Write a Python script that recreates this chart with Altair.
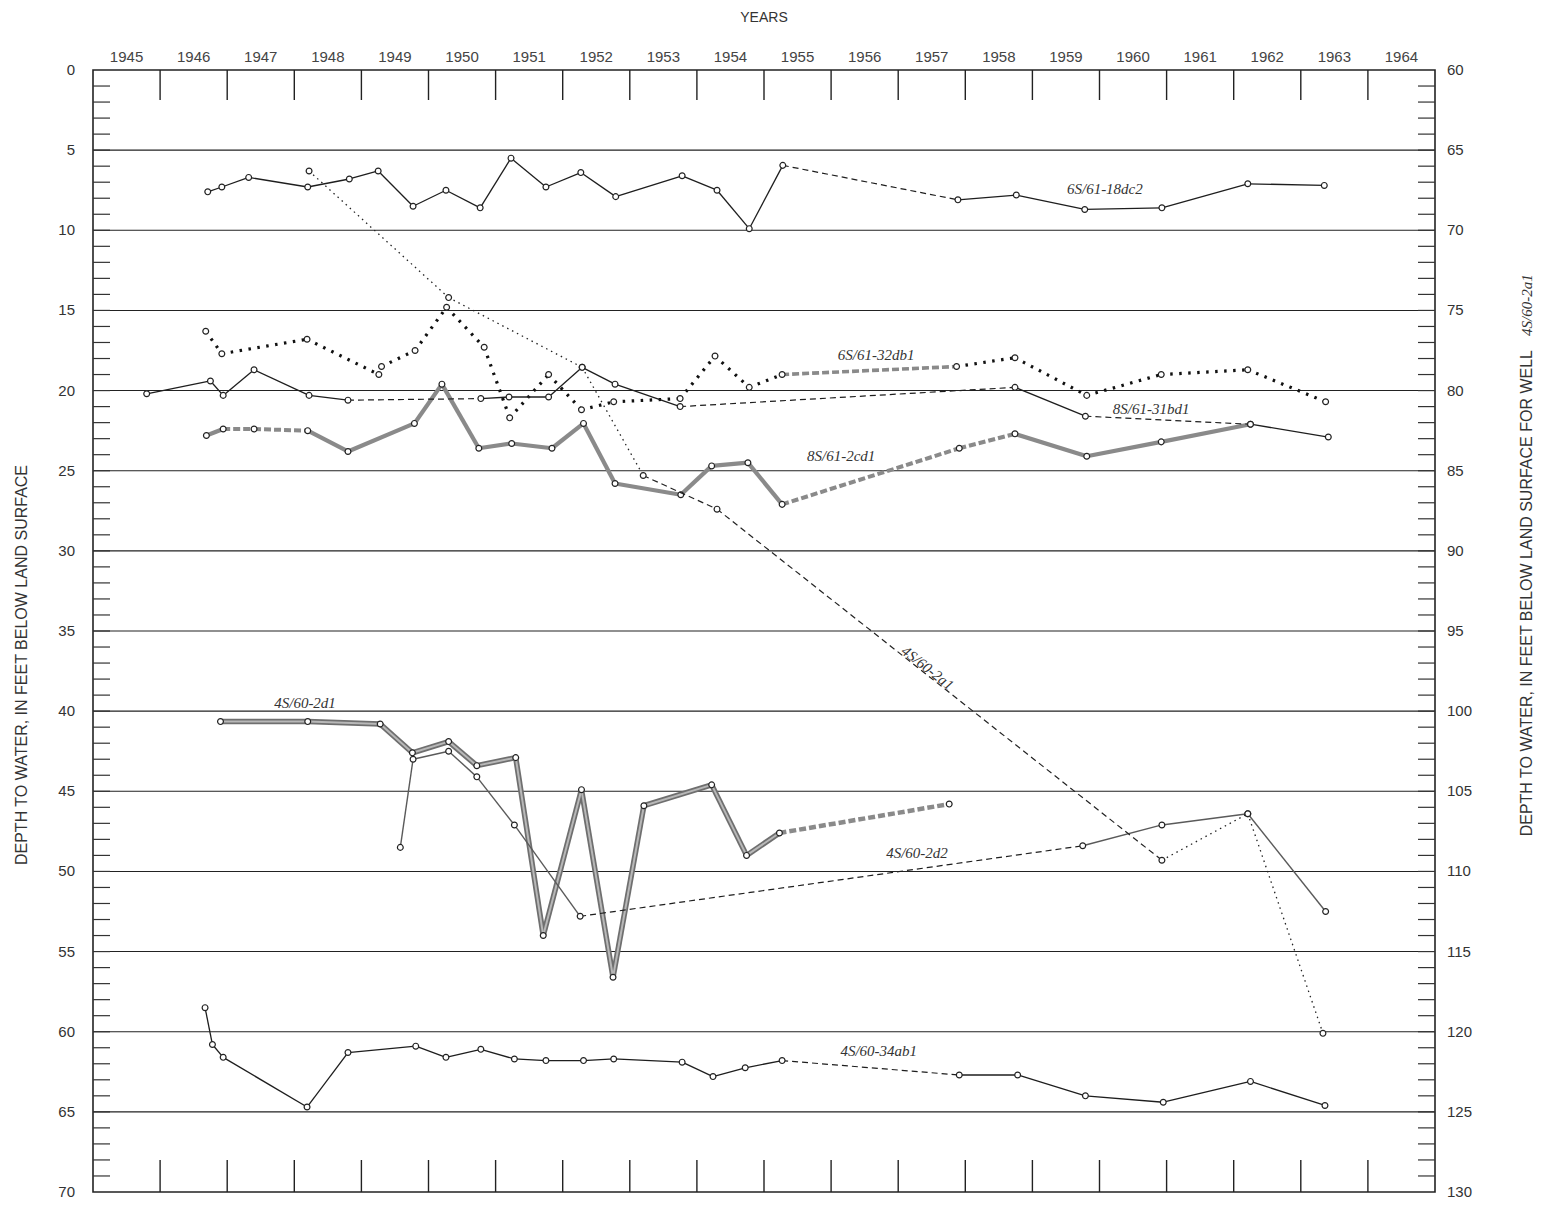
import altair as alt
import pandas as pd

# ---------------- axis values ----------------
YEAR_LABELS = list(range(1945, 1965))      # labels, centred inside each year
YEAR_TICKS = list(range(1946, 1965))       # year boundaries (inner tick marks)
LEFT_LABELS = list(range(0, 75, 5))        # depth to water, feet
RIGHT_LABELS = list(range(60, 135, 5))     # depth to water for well 4S/60-2a1
MINOR_TICKS = list(range(1, 70))

# ---------------- hydrographs (depth to water, ft below land surface) ----------------
# kind of each segment between consecutive measurements: "r" record line, "g" gap (dashed)
w18dc2_year = [1946.71, 1946.92, 1947.32, 1948.20, 1948.82, 1949.25, 1949.77, 1950.26, 1950.77, 1951.23,
               1951.75, 1952.27, 1952.79, 1953.78, 1954.30, 1954.78, 1955.28, 1957.89, 1958.76, 1959.78,
               1960.93, 1962.21, 1963.35]
w18dc2_depth = [7.6, 7.3, 6.7, 7.3, 6.8, 6.3, 8.5, 7.5, 8.6, 5.5, 7.3, 6.4, 7.9, 6.6, 7.5, 9.9, 5.95,
                8.1, 7.8, 8.7, 8.6, 7.1, 7.2]
w18dc2_kind = ["r"] * 16 + ["g"] + ["r"] * 5

w32db1_year = [1946.68, 1946.92, 1948.19, 1949.26, 1949.30, 1949.80, 1950.27, 1950.83, 1951.21, 1951.79,
               1952.28, 1952.76, 1953.75, 1954.27, 1954.78, 1955.27, 1957.87, 1958.74, 1959.81, 1960.92,
               1962.21, 1963.37]
w32db1_depth = [16.3, 17.7, 16.8, 19.0, 18.5, 17.5, 14.8, 17.3, 21.7, 19.0, 21.2, 20.7, 20.5, 17.85,
                19.8, 19.0, 18.5, 17.95, 20.3, 19.0, 18.7, 20.7]
w32db1_kind = ["r"] * 15 + ["g"] + ["r"] * 5

w31bd1_year = [1945.80, 1946.75, 1946.94, 1947.40, 1948.22, 1948.80, 1950.78, 1951.20, 1951.79, 1952.29,
               1952.78, 1953.75, 1958.74, 1959.79, 1962.25, 1963.41]
w31bd1_depth = [20.2, 19.4, 20.3, 18.7, 20.3, 20.6, 20.5, 20.4, 20.4, 18.55, 19.6, 21.0, 19.8, 21.6,
                22.1, 22.9]
w31bd1_kind = ["r", "r", "r", "r", "r", "g", "r", "r", "r", "r", "r", "g", "r", "g", "r"]

w2cd1_year = [1946.69, 1946.94, 1947.40, 1948.20, 1948.80, 1949.79, 1950.20, 1950.75, 1951.24, 1951.84,
              1952.31, 1952.78, 1953.76, 1954.22, 1954.76, 1955.27, 1957.91, 1958.74, 1959.81, 1960.92,
              1962.25]
w2cd1_depth = [22.8, 22.4, 22.4, 22.5, 23.8, 22.05, 19.6, 23.6, 23.3, 23.6, 22.05, 25.8, 26.5, 24.7,
               24.5, 27.1, 23.6, 22.7, 24.1, 23.2, 22.1]
w2cd1_kind = ["r", "g", "g"] + ["r"] * 12 + ["g", "g", "r", "r", "r"]

w2d1_year = [1946.90, 1948.20, 1949.28, 1949.76, 1950.30, 1950.72, 1951.30, 1951.71, 1952.28, 1952.75,
             1953.21, 1954.22, 1954.74, 1955.23, 1957.76]
w2d1_depth = [40.65, 40.65, 40.8, 42.6, 41.9, 43.4, 42.9, 54.0, 44.9, 56.6, 45.9, 44.6, 49.0, 47.6, 45.8]
w2d1_kind = ["r"] * 13 + ["g"]

w2d2_year = [1949.58, 1949.77, 1950.30, 1950.72, 1951.28, 1952.26, 1959.75, 1960.93, 1962.21, 1963.37]
w2d2_depth = [48.5, 43.0, 42.5, 44.1, 47.1, 52.8, 48.4, 47.1, 46.4, 52.5]
w2d2_kind = ["r", "r", "r", "r", "r", "g", "r", "r", "r"]

w34ab1_year = [1946.67, 1946.78, 1946.94, 1948.19, 1948.80, 1949.81, 1950.26, 1950.78, 1951.28, 1951.75,
               1952.31, 1952.76, 1953.78, 1954.24, 1954.72, 1955.27, 1957.91, 1958.78, 1959.79, 1960.95,
               1962.25, 1963.36]
w34ab1_depth = [58.5, 60.8, 61.6, 64.7, 61.3, 60.9, 61.6, 61.1, 61.7, 61.8, 61.8, 61.7, 61.9, 62.8,
                62.25, 61.8, 62.7, 62.7, 64.0, 64.4, 63.1, 64.6]
w34ab1_kind = ["r"] * 15 + ["g"] + ["r"] * 5

# well 4S/60-2a1 is read on the right-hand scale
w2a1_year = [1948.22, 1950.30, 1952.29, 1953.20, 1954.30, 1960.93, 1962.21, 1963.33]
w2a1_depth = [66.3, 74.2, 78.55, 85.3, 87.4, 109.3, 106.4, 120.1]
w2a1_kind = ["r", "r", "r", "g", "g", "r", "r"]

# well labels (left scale)
LABEL_TEXT = ["6S/61-18dc2", "6S/61-32db1", "8S/61-31bd1", "8S/61-2cd1", "4S/60-2d1", "4S/60-2d2", "4S/60-34ab1"]
LABEL_YEAR = [1960.08, 1956.67, 1960.77, 1956.15, 1948.16, 1957.28, 1956.71]
LABEL_DEPTH = [7.4, 17.8, 21.15, 24.1, 39.5, 48.85, 61.2]
# label of 4S/60-2a1 (right scale)
LABEL_2A1 = ["4S/60-2a1"]
LABEL_2A1_YEAR = [1957.44]
LABEL_2A1_DEPTH = [97.3]

# ---------------- geometry ----------------
W, H = 1342, 1122
xscale = alt.Scale(domain=[1945, 1965], nice=False, zero=False)
yscale = alt.Scale(domain=[0, 70], reverse=True, nice=False, zero=False)
rscale = alt.Scale(domain=[60, 130], reverse=True, nice=False, zero=False)

DARK = "#1e1e1e"
GRAY = "#8a8a8a"
SANS = "Liberation Sans"
SERIF = "Liberation Serif"

STYLES = {
    ("6S/61-18dc2", "r"): [dict(color=DARK, strokeWidth=1.3)],
    ("6S/61-18dc2", "g"): [dict(color=DARK, strokeWidth=1.2, strokeDash=[6, 4])],
    ("6S/61-32db1", "r"): [dict(color="#111", strokeWidth=3.2, strokeDash=[2.5, 6.5])],
    ("6S/61-32db1", "g"): [dict(color=GRAY, strokeWidth=3.6, strokeDash=[7, 3])],
    ("8S/61-31bd1", "r"): [dict(color=DARK, strokeWidth=1.3)],
    ("8S/61-31bd1", "g"): [dict(color=DARK, strokeWidth=1.2, strokeDash=[6, 4])],
    ("8S/61-2cd1", "r"): [dict(color=GRAY, strokeWidth=4.2)],
    ("8S/61-2cd1", "g"): [dict(color=GRAY, strokeWidth=4.0, strokeDash=[7, 3])],
    ("4S/60-2d1", "r"): [dict(color="#6f6f6f", strokeWidth=5.5), dict(color="#b8b8b8", strokeWidth=2.0)],
    ("4S/60-2d1", "g"): [dict(color=GRAY, strokeWidth=4.5, strokeDash=[7, 3])],
    ("4S/60-2d2", "r"): [dict(color="#5a5a5a", strokeWidth=1.4)],
    ("4S/60-2d2", "g"): [dict(color=DARK, strokeWidth=1.2, strokeDash=[6, 4])],
    ("4S/60-34ab1", "r"): [dict(color=DARK, strokeWidth=1.3)],
    ("4S/60-34ab1", "g"): [dict(color=DARK, strokeWidth=1.2, strokeDash=[6, 4])],
    ("4S/60-2a1", "r"): [dict(color="#222", strokeWidth=1.3, strokeDash=[1.5, 4])],
    ("4S/60-2a1", "g"): [dict(color="#222", strokeWidth=1.2, strokeDash=[6, 4])],
}


def segment_rows(well, years, depths, kinds):
    rows = []
    for i, k in enumerate(kinds):
        for j in (i, i + 1):
            rows.append(dict(well=well, kind=k, seg=f"{well}#{i}", ord=j,
                             year=years[j], depth=depths[j]))
    return rows


LEFT_WELLS = [
    ("4S/60-2d1", w2d1_year, w2d1_depth, w2d1_kind),
    ("8S/61-2cd1", w2cd1_year, w2cd1_depth, w2cd1_kind),
    ("6S/61-32db1", w32db1_year, w32db1_depth, w32db1_kind),
    ("6S/61-18dc2", w18dc2_year, w18dc2_depth, w18dc2_kind),
    ("8S/61-31bd1", w31bd1_year, w31bd1_depth, w31bd1_kind),
    ("4S/60-2d2", w2d2_year, w2d2_depth, w2d2_kind),
    ("4S/60-34ab1", w34ab1_year, w34ab1_depth, w34ab1_kind),
]
WELL_2A1 = [("4S/60-2a1", w2a1_year, w2a1_depth, w2a1_kind)]


def X(field):
    return alt.X(field, scale=xscale, axis=None)


def line_layers(wells, ysc):
    layers = []
    for well, yrs, dps, kinds in wells:
        df = pd.DataFrame(segment_rows(well, yrs, dps, kinds))
        for kind in ("g", "r"):
            sub = df[df["kind"] == kind]
            if sub.empty:
                continue
            for props in STYLES[(well, kind)]:
                layers.append(
                    alt.Chart(sub).mark_line(strokeCap="butt", strokeJoin="round", **props).encode(
                        x=X("year:Q"),
                        y=alt.Y("depth:Q", scale=ysc, axis=None),
                        detail="seg:N",
                        order="ord:Q",
                    )
                )
    return layers


def point_layer(wells, ysc):
    rows = []
    for well, yrs, dps, _ in wells:
        for y, d in zip(yrs, dps):
            rows.append(dict(well=well, year=y, depth=d))
    return alt.Chart(pd.DataFrame(rows)).mark_circle(
        fill="white", stroke="#222", strokeWidth=1.2, size=34, opacity=1
    ).encode(
        x=X("year:Q"),
        y=alt.Y("depth:Q", scale=ysc, axis=None),
    )


# ---- frame: gridlines, inner ticks, scale labels ----
grid = alt.Chart(pd.DataFrame({"d": LEFT_LABELS[1:-1]})).mark_rule(color="#222", strokeWidth=1.1).encode(
    y=alt.Y("d:Q", scale=yscale, axis=None), x=alt.value(0), x2=alt.value(W),
)
years_top = alt.Chart(pd.DataFrame({"yr": YEAR_TICKS})).mark_rule(color="#222", strokeWidth=1.4).encode(
    x=X("yr:Q"), y=alt.value(0), y2=alt.value(30),
)
years_bottom = alt.Chart(pd.DataFrame({"yr": YEAR_TICKS})).mark_rule(color="#222", strokeWidth=1.4).encode(
    x=X("yr:Q"), y=alt.value(H - 32), y2=alt.value(H),
)
minor_left = alt.Chart(pd.DataFrame({"d": MINOR_TICKS})).mark_rule(color="#333", strokeWidth=1.2).encode(
    y=alt.Y("d:Q", scale=yscale, axis=None), x=alt.value(0), x2=alt.value(17),
)
minor_right = alt.Chart(pd.DataFrame({"d": MINOR_TICKS})).mark_rule(color="#333", strokeWidth=1.2).encode(
    y=alt.Y("d:Q", scale=yscale, axis=None), x=alt.value(W - 17), x2=alt.value(W),
)
year_text = alt.Chart(pd.DataFrame({"yr": YEAR_LABELS})).transform_calculate(
    mid="datum.yr + 0.5", lab="'' + datum.yr"
).mark_text(font=SANS, fontSize=15, color="#444", baseline="bottom").encode(
    x=X("mid:Q"), y=alt.value(-5), text="lab:N",
)
left_text = alt.Chart(pd.DataFrame({"d": LEFT_LABELS})).transform_calculate(
    lab="'' + datum.d"
).mark_text(font=SANS, fontSize=15, color="#333", align="right", baseline="middle").encode(
    y=alt.Y("d:Q", scale=yscale, axis=None), x=alt.value(-18), text="lab:N",
)

labels = alt.Chart(pd.DataFrame({"t": LABEL_TEXT, "year": LABEL_YEAR, "depth": LABEL_DEPTH})).mark_text(
    font=SERIF, fontStyle="italic", fontSize=15, color="#333"
).encode(
    x=X("year:Q"),
    y=alt.Y("depth:Q", scale=yscale, axis=None),
    text="t:N",
)

title_top = alt.Chart(pd.DataFrame({"t": ["YEARS"]})).mark_text(
    font=SANS, fontSize=14, color="#333"
).encode(text="t:N", x=alt.value(W / 2), y=alt.value(-52))

title_left = alt.Chart(pd.DataFrame({"t": ["DEPTH TO WATER, IN FEET BELOW LAND SURFACE"]})).mark_text(
    font=SANS, fontSize=16, color="#333", angle=270, align="center", baseline="middle"
).encode(text="t:N", x=alt.value(-71), y=alt.value(595))

title_right = alt.Chart(pd.DataFrame({"t": ["DEPTH TO WATER, IN FEET BELOW LAND SURFACE FOR WELL"]})).mark_text(
    font=SANS, fontSize=16, color="#333", angle=270, align="right", baseline="middle"
).encode(text="t:N", x=alt.value(1434), y=alt.value(280))

title_right_well = alt.Chart(pd.DataFrame({"t": ["4S/60-2a1"]})).mark_text(
    font=SERIF, fontStyle="italic", fontSize=15, color="#333", angle=270, align="left",
    baseline="middle"
).encode(text="t:N", x=alt.value(1434), y=alt.value(266))

left = alt.layer(
    grid, years_top, years_bottom, minor_left, minor_right,
    *line_layers(LEFT_WELLS, yscale),
    point_layer(LEFT_WELLS, yscale),
    labels, year_text, left_text, title_top, title_left, title_right, title_right_well,
)

# ---- right-scale well 4S/60-2a1 ----
right_text = alt.Chart(pd.DataFrame({"d": RIGHT_LABELS})).transform_calculate(
    lab="'' + datum.d"
).mark_text(font=SANS, fontSize=15, color="#333", align="left", baseline="middle").encode(
    y=alt.Y("d:Q", scale=rscale, axis=None), x=alt.value(W + 12), text="lab:N",
)
label_2a1 = alt.Chart(pd.DataFrame({"t": LABEL_2A1, "year": LABEL_2A1_YEAR, "depth": LABEL_2A1_DEPTH})).mark_text(
    font=SERIF, fontStyle="italic", fontSize=15, color="#333", angle=38
).encode(
    x=X("year:Q"),
    y=alt.Y("depth:Q", scale=rscale, axis=None),
    text="t:N",
)
right = alt.layer(
    right_text,
    *line_layers(WELL_2A1, rscale),
    point_layer(WELL_2A1, rscale),
    label_2a1,
)

chart = alt.layer(left, right).resolve_scale(y="independent").properties(
    width=W, height=H,
    autosize=alt.AutoSizeParams(type="none"),
    padding={"left": 85, "top": 62, "right": 110, "bottom": 9},
).configure_view(stroke="#222", strokeWidth=1.6)

chart.save("out.html", embed_options={"renderer": "svg", "actions": False})
